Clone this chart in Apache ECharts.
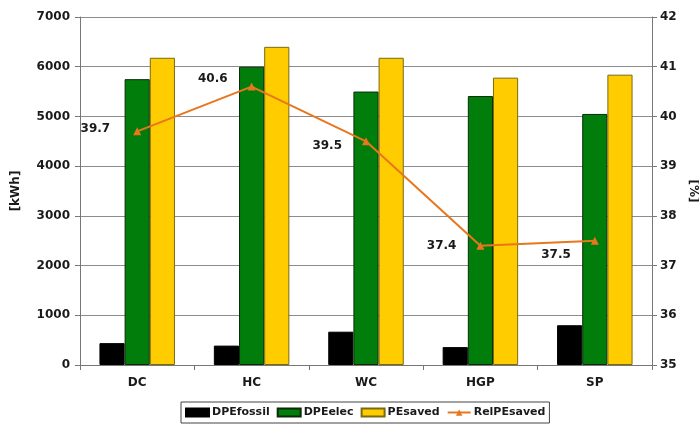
<!DOCTYPE html>
<html>
<head>
<meta charset="utf-8">
<title>Primary energy savings</title>
<script src="https://cdn.jsdelivr.net/npm/echarts@6/dist/echarts.min.js"></script>
<style>
  html, body { margin: 0; padding: 0; background: #fff; }
  #chart { width: 699px; height: 427px; }
</style>
</head>
<body>
<div id="chart"></div>
<script>
// Cases
const categories = ['DC', 'HC', 'WC', 'HGP', 'SP'];

// Energy quantities [kWh]
const dpeFossil = [440, 390, 670, 360, 800];
const dpeElec = [5750, 6000, 5500, 5410, 5050];
const peSaved = [6180, 6400, 6180, 5780, 5840];

// Relative primary energy saving [%]
const relPeSaved = [39.7, 40.6, 39.5, 37.4, 37.5];

// Axis ranges
const kwhMin = 0, kwhMax = 7000, kwhStep = 1000;
const pctMin = 35, pctMax = 42, pctStep = 1;

// Small nudges so the value labels sit clear of the line
const labelShift = [[-3, -2], [0, -8], [0, 5], [0, 0], [0, 14]];

const textColor = '#1a1a1a';
const fontFamily = '"DejaVu Sans", Verdana, sans-serif';

const chart = echarts.init(document.getElementById('chart'), null, { renderer: 'canvas' });

const barBase = {
  type: 'bar',
  barGap: '0%',
  barCategoryGap: '34%',
  yAxisIndex: 0
};

chart.setOption({
  animation: false,
  backgroundColor: '#ffffff',
  textStyle: { fontFamily: fontFamily },
  grid: { left: 80, right: 47, top: 17, bottom: 62, outerBoundsMode: 'none', containLabel: false },
  legend: {
    left: 181,
    bottom: 4,
    itemWidth: 23,
    itemHeight: 8,
    itemGap: 7,
    padding: [5, 4, 5, 4],
    borderColor: '#444',
    borderWidth: 1,
    borderRadius: 0,
    textStyle: { color: textColor, fontSize: 11, fontWeight: 'bold', fontFamily: fontFamily, padding: [0, 0, 0, -2] },
    data: [
      { name: 'DPEfossil', icon: 'rect' },
      { name: 'DPEelec', icon: 'rect' },
      { name: 'PEsaved', icon: 'rect' },
      { name: 'RelPEsaved' }
    ]
  },
  xAxis: {
    type: 'category',
    data: categories,
    axisLine: { lineStyle: { color: '#777', width: 1 } },
    axisTick: { show: true, alignWithLabel: false, length: 5, lineStyle: { color: '#777' } },
    axisLabel: { color: textColor, fontSize: 12, fontWeight: 'bold', margin: 12 }
  },
  yAxis: [
    {
      type: 'value',
      min: kwhMin,
      max: kwhMax,
      interval: kwhStep,
      name: '[kWh]',
      nameLocation: 'middle',
      nameRotate: 90,
      nameGap: 58,
      nameTextStyle: { color: textColor, fontSize: 12, fontWeight: 'bold' },
      axisLine: { show: true, lineStyle: { color: '#777', width: 1 } },
      axisTick: { show: true, length: 5, lineStyle: { color: '#777' } },
      axisLabel: { color: textColor, fontSize: 12, fontWeight: 'bold', margin: 10, formatter: v => String(v) },
      splitLine: { show: true, lineStyle: { color: '#8c8c8c', width: 1 } }
    },
    {
      type: 'value',
      position: 'right',
      min: pctMin,
      max: pctMax,
      interval: pctStep,
      name: '[%]',
      nameLocation: 'middle',
      nameRotate: -90,
      nameGap: 31,
      nameTextStyle: { color: textColor, fontSize: 12, fontWeight: 'bold' },
      axisLine: { show: true, lineStyle: { color: '#777', width: 1 } },
      axisTick: { show: true, length: 5, lineStyle: { color: '#777' } },
      axisLabel: { color: textColor, fontSize: 12, fontWeight: 'bold', margin: 8, formatter: v => String(v) },
      splitLine: { show: false }
    }
  ],
  series: [
    Object.assign({}, barBase, {
      name: 'DPEfossil',
      data: dpeFossil,
      itemStyle: { color: '#000000', borderColor: '#000000', borderWidth: 1 }
    }),
    Object.assign({}, barBase, {
      name: 'DPEelec',
      data: dpeElec,
      itemStyle: { color: '#007d0a', borderColor: '#0b2b0b', borderWidth: 1 }
    }),
    Object.assign({}, barBase, {
      name: 'PEsaved',
      data: peSaved,
      itemStyle: { color: '#ffcc00', borderColor: '#7a6a10', borderWidth: 1 }
    }),
    {
      name: 'RelPEsaved',
      type: 'line',
      yAxisIndex: 1,
      data: relPeSaved.map((v, i) => ({ value: v, label: { offset: labelShift[i] } })),
      symbol: 'triangle',
      symbolSize: 8,
      z: 5,
      lineStyle: { color: '#e8761e', width: 2 },
      itemStyle: { color: '#e8761e' },
      label: {
        show: true,
        position: 'left',
        distance: 20,
        color: textColor,
        fontSize: 12,
        fontWeight: 'bold',
        formatter: p => p.value.toFixed(1)
      }
    }
  ]
});
</script>
</body>
</html>
